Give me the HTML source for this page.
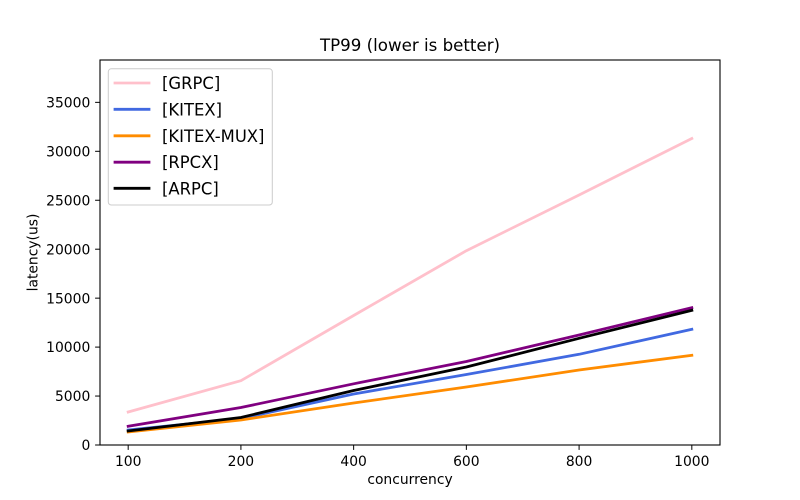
<!DOCTYPE html>
<html>
<head>
<meta charset="utf-8">
<style>
  html, body { margin: 0; padding: 0; background: #ffffff; }
  svg { display: block; }
  text { font-family: "DejaVu Sans", "Liberation Sans", sans-serif; fill: #000; }
</style>
</head>
<body>
<svg width="800" height="500" viewBox="0 0 800 500" xmlns="http://www.w3.org/2000/svg">
  <rect x="0" y="0" width="800" height="500" fill="#ffffff"/>
  <rect x="100" y="60" width="620" height="385" fill="#ffffff"/>

  <!-- series -->
  <g fill="none" stroke-width="2.78" stroke-linejoin="round" stroke-linecap="square">
    <polyline stroke="#FFC0CB" points="128.18,412 240.91,380.7 353.64,315.5 466.36,250.7 579.09,195 691.82,138.5"/>
    <polyline stroke="#4169E1" points="128.18,430 240.91,418.5 353.64,394 466.36,374.5 579.09,354.3 691.82,329.3"/>
    <polyline stroke="#FF8C00" points="128.18,432 240.91,420 353.64,403 466.36,387 579.09,370 691.82,355.3"/>
    <polyline stroke="#800080" points="128.18,426.3 240.91,407.5 353.64,383.8 466.36,361.5 579.09,335 691.82,307.7"/>
    <polyline stroke="#000000" points="128.18,431 240.91,417.5 353.64,390.5 466.36,367 579.09,338.3 691.82,310.3"/>
  </g>

  <!-- axes spines -->
  <rect x="100" y="60" width="620" height="385" fill="none" stroke="#000" stroke-width="1.1"/>

  <!-- x ticks -->
  <g stroke="#000" stroke-width="1">
    <line x1="128.18" y1="445" x2="128.18" y2="449.9"/>
    <line x1="240.91" y1="445" x2="240.91" y2="449.9"/>
    <line x1="353.64" y1="445" x2="353.64" y2="449.9"/>
    <line x1="466.36" y1="445" x2="466.36" y2="449.9"/>
    <line x1="579.09" y1="445" x2="579.09" y2="449.9"/>
    <line x1="691.82" y1="445" x2="691.82" y2="449.9"/>
  </g>
  <g font-size="13.89" text-anchor="middle">
    <text x="128.18" y="466">100</text>
    <text x="240.91" y="466">200</text>
    <text x="353.64" y="466">400</text>
    <text x="466.36" y="466">600</text>
    <text x="579.09" y="466">800</text>
    <text x="691.82" y="466">1000</text>
  </g>

  <!-- y ticks -->
  <g stroke="#000" stroke-width="1">
    <line x1="95.1" y1="445" x2="100" y2="445"/>
    <line x1="95.1" y1="396.05" x2="100" y2="396.05"/>
    <line x1="95.1" y1="347.1" x2="100" y2="347.1"/>
    <line x1="95.1" y1="298.15" x2="100" y2="298.15"/>
    <line x1="95.1" y1="249.2" x2="100" y2="249.2"/>
    <line x1="95.1" y1="200.25" x2="100" y2="200.25"/>
    <line x1="95.1" y1="151.3" x2="100" y2="151.3"/>
    <line x1="95.1" y1="102.35" x2="100" y2="102.35"/>
  </g>
  <g font-size="13.89" text-anchor="end">
    <text x="90.3" y="450.1">0</text>
    <text x="90.3" y="401.15">5000</text>
    <text x="90.3" y="352.2">10000</text>
    <text x="90.3" y="303.25">15000</text>
    <text x="90.3" y="254.3">20000</text>
    <text x="90.3" y="205.35">25000</text>
    <text x="90.3" y="156.4">30000</text>
    <text x="90.3" y="107.45">35000</text>
  </g>

  <!-- labels -->
  <text x="410" y="484" font-size="13.89" text-anchor="middle">concurrency</text>
  <text x="0" y="0" font-size="13.89" text-anchor="middle" transform="translate(37.5,252.5) rotate(-90)">latency(us)</text>
  <text x="410" y="51" font-size="16.67" text-anchor="middle">TP99 (lower is better)</text>

  <!-- legend -->
  <rect x="108.3" y="68.8" width="164" height="136.2" rx="3" ry="3" fill="#ffffff" fill-opacity="0.8" stroke="#cccccc" stroke-width="1"/>
  <g stroke-width="2.78" stroke-linecap="square">
    <line x1="115" y1="83" x2="149" y2="83" stroke="#FFC0CB"/>
    <line x1="115" y1="109.3" x2="149" y2="109.3" stroke="#4169E1"/>
    <line x1="115" y1="135.8" x2="149" y2="135.8" stroke="#FF8C00"/>
    <line x1="115" y1="162.2" x2="149" y2="162.2" stroke="#800080"/>
    <line x1="115" y1="188.3" x2="149" y2="188.3" stroke="#000000"/>
  </g>
  <g font-size="16.4">
    <text x="162" y="89">[GRPC]</text>
    <text x="162" y="115.3">[KITEX]</text>
    <text x="162" y="141.8">[KITEX-MUX]</text>
    <text x="162" y="168.2">[RPCX]</text>
    <text x="162" y="194.3">[ARPC]</text>
  </g>
</svg>
</body>
</html>
